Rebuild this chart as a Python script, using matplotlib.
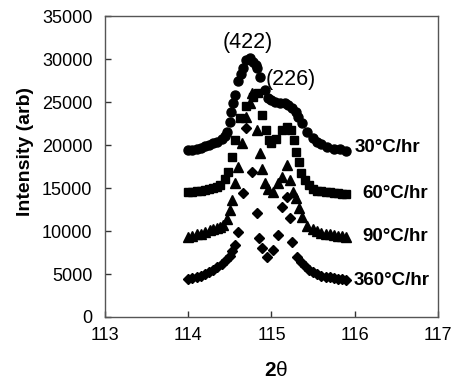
import matplotlib.pyplot as plt

plt.rcParams['font.family'] = ['Liberation Sans', 'DejaVu Sans']

# 30 C/hr (circles)
x30 = [114.00, 114.05, 114.10, 114.15, 114.20, 114.25, 114.30, 114.35, 114.40, 114.44,
       114.47, 114.50, 114.51, 114.54, 114.56, 114.60, 114.63, 114.66, 114.70, 114.74,
       114.78, 114.81, 114.83, 114.86, 114.92, 114.96, 115.00, 115.04, 115.10, 115.16,
       115.20, 115.25, 115.29, 115.32, 115.37, 115.43, 115.50, 115.55, 115.60, 115.67,
       115.75, 115.82, 115.90]
y30 = [19400, 19450, 19600, 19700, 19900, 20000, 20200, 20350, 20700, 21000,
       21500, 22700, 23800, 24900, 25800, 27400, 28300, 29000, 29900, 30100,
       29650, 29300, 29000, 27900, 26400, 25500, 25200, 25000, 24950, 24900,
       24700, 24300, 23800, 23300, 22600, 21500, 20800, 20400, 20100, 19800,
       19600, 19500, 19300]

# 60 C/hr (squares)
x60 = [114.00, 114.05, 114.10, 114.15, 114.20, 114.25, 114.30, 114.34, 114.38, 114.44,
       114.48, 114.52, 114.56, 114.62, 114.70, 114.78, 114.84, 114.89, 114.93, 114.97,
       115.00, 115.06, 115.13, 115.19, 115.24, 115.27, 115.30, 115.33, 115.36, 115.40,
       115.45, 115.50, 115.55, 115.60, 115.65, 115.70, 115.75, 115.80, 115.85, 115.90]
y60 = [14500, 14500, 14600, 14700, 14800, 14900, 15000, 15100, 15400, 16000,
       16900, 18600, 20600, 23100, 24600, 25600, 26000, 23500, 21700, 20600,
       20200, 20700, 21700, 22100, 21800, 20600, 19200, 18000, 16800, 15900,
       15300, 14900, 14700, 14600, 14500, 14500, 14400, 14400, 14300, 14300]

# 90 C/hr (triangles)
x90 = [114.00, 114.05, 114.10, 114.15, 114.20, 114.26, 114.30, 114.34, 114.38, 114.42,
       114.47, 114.50, 114.53, 114.56, 114.60, 114.65, 114.70, 114.74, 114.77, 114.83,
       114.86, 114.89, 114.92, 114.96, 115.02, 115.08, 115.13, 115.19, 115.22, 115.26,
       115.29, 115.33, 115.37, 115.43, 115.50, 115.55, 115.60, 115.65, 115.70, 115.75,
       115.80, 115.85, 115.90]
y90 = [9300, 9400, 9600, 9700, 9900, 10100, 10200, 10400, 10500, 10700,
       11400, 12400, 13600, 15600, 17400, 20200, 23300, 24900, 26000, 21700,
       19100, 17200, 15600, 14900, 14500, 15600, 16300, 17700, 15900, 14500,
       13800, 12700, 11600, 10600, 10200, 10000, 9800, 9700, 9600, 9500,
       9400, 9400, 9300]

# 360 C/hr (diamonds)
x360 = [114.00, 114.05, 114.10, 114.15, 114.20, 114.25, 114.30, 114.35, 114.40, 114.45,
        114.50, 114.53, 114.56, 114.60, 114.66, 114.70, 114.77, 114.83, 114.85, 114.89,
        114.95, 115.02, 115.08, 115.13, 115.19, 115.22, 115.25, 115.31, 115.35, 115.40,
        115.45, 115.50, 115.55, 115.60, 115.65, 115.70, 115.75, 115.80, 115.85, 115.90]
y360 = [4400, 4500, 4700, 4800, 5000, 5200, 5500, 5800, 6200, 6600,
        7100, 7700, 8400, 9900, 14400, 22000, 16900, 12100, 9200, 8000,
        7000, 7800, 9500, 12800, 14000, 11500, 8700, 7000, 6400, 5900,
        5500, 5200, 5000, 4800, 4700, 4600, 4500, 4400, 4400, 4300]

rates = ['30°C/hr', '60°C/hr', '90°C/hr', '360°C/hr']
label_x = [116.00, 116.09, 116.09, 115.98]
label_y = [19770, 14420, 9420, 4300]

fig = plt.figure(figsize=(4.54, 3.84), dpi=100)
ax = fig.add_axes([0.231, 0.1745, 0.734, 0.7835])

ax.plot(x30, y30, 'o', color='black', markersize=6.5, linestyle='none')
ax.plot(x60, y60, 's', color='black', markersize=5.8, linestyle='none')
ax.plot(x90, y90, '^', color='black', markersize=6.5, linestyle='none')
ax.plot(x360, y360, 'D', color='black', markersize=4.8, linestyle='none')

for name, lx, ly in zip(rates, label_x, label_y):
    ax.text(lx, ly, name, fontsize=13.5, fontweight='bold', ha='left', va='center')

ax.text(114.71, 31980, '(422)', fontsize=15.5, ha='center', va='center')
ax.text(115.23, 27670, '(226)', fontsize=15.5, ha='center', va='center')

ax.set_xlim(113, 117)
ax.set_ylim(0, 35000)
ax.set_xticks([113, 114, 115, 116, 117])
ax.set_yticks(range(0, 35001, 5000))
ax.tick_params(direction='in', length=4, width=1, labelsize=13, colors='#333333',
               labelcolor='black')
ax.tick_params(axis='y', pad=9)
ax.tick_params(axis='x', pad=7)
for s in ax.spines.values():
    s.set_color('#555555')
    s.set_linewidth(1)

fig.text(26 / 454, 1 - 152 / 384, 'Intensity (arb)', fontsize=14, fontweight='bold',
         rotation=90, ha='center', va='center')
# x label: bold "2" followed by a regular theta
fig.text(276 / 454, 1 - 371 / 384, '2', fontsize=15, fontweight='bold',
         ha='right', va='center')
fig.text(276 / 454, 1 - 371 / 384, 'θ', fontsize=15, ha='left', va='center')

fig.savefig('out.png', dpi=100)
